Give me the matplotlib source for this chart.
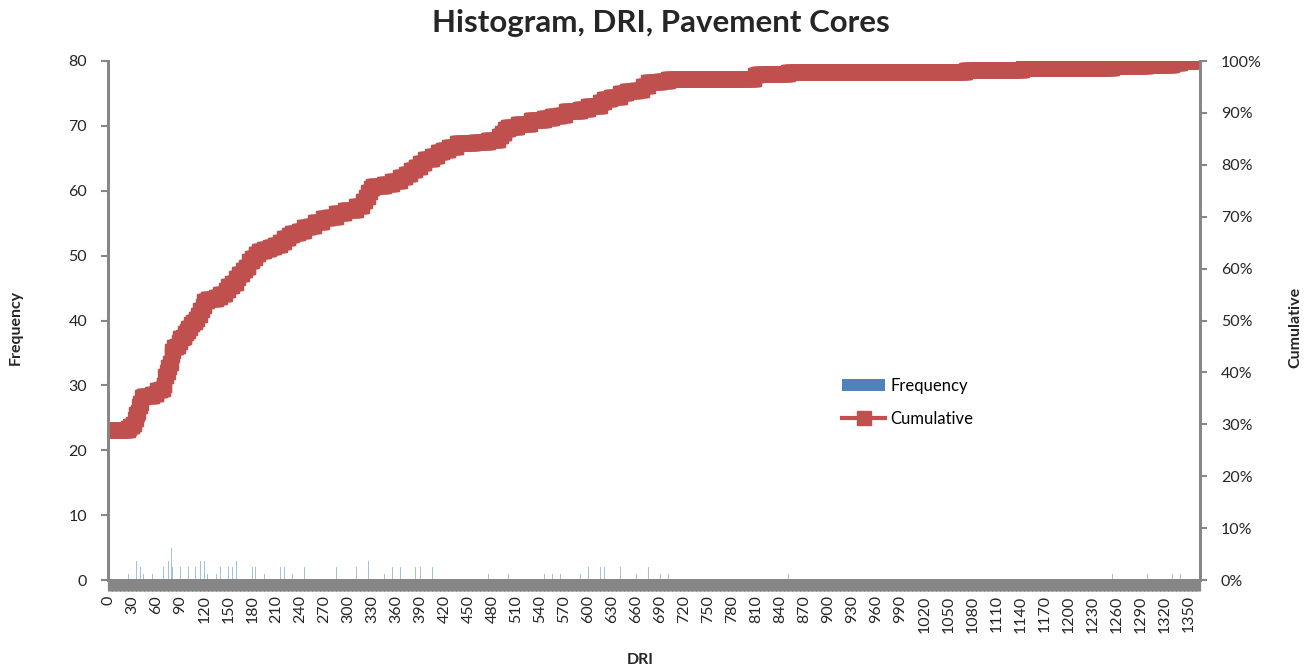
import numpy as np
import matplotlib.pyplot as plt
from matplotlib.patches import Patch
from matplotlib.lines import Line2D

plt.rcParams['font.family'] = ['Lato', 'DejaVu Sans']

# DRI bins with non-zero counts and their frequencies
dri_bins = [0, 25, 27, 31, 33, 35, 37, 38, 40, 42, 44, 55, 61, 66, 69, 71, 73, 75, 77, 79, 80,
            82, 86, 88, 90, 93, 96, 98, 100, 103, 106, 109, 112, 115, 118, 120, 124, 135, 140,
            147, 150, 155, 160, 163, 168, 172, 176, 180, 184, 188, 195, 202, 208, 215, 220, 226,
            230, 238, 245, 252, 258, 268, 276, 285, 296, 310, 318, 322, 325, 328, 331, 345, 355,
            365, 372, 378, 384, 390, 396, 405, 412, 418, 426, 436, 458, 475, 488, 492, 496, 500,
            512, 528, 545, 555, 565, 572, 590, 600, 615, 620, 628, 640, 648, 660, 668, 675, 690,
            700, 808, 812, 850, 1072, 1143, 1255, 1299, 1330, 1340]
counts = [84, 1, 1, 1, 3, 3, 1, 3, 2, 3, 1, 1, 2, 1, 2, 5, 2, 3, 2, 5, 2,
          2, 1, 2, 2, 1, 2, 1, 2, 2, 1, 2, 2, 3, 2, 3, 1, 1, 2,
          2, 2, 2, 3, 2, 2, 2, 3, 2, 2, 2, 1, 1, 1, 2, 2, 2,
          1, 1, 2, 1, 2, 2, 1, 2, 2, 2, 3, 2, 3, 2, 1, 1, 2,
          2, 2, 2, 2, 2, 2, 2, 2, 1, 2, 2, 1, 1, 2, 2, 2, 1,
          2, 2, 1, 1, 1, 2, 1, 2, 2, 2, 1, 2, 1, 1, 2, 2, 1,
          1, 2, 1, 1, 1, 1, 1, 1, 1, 1]
n_bins = 1365
tick_step = 30

bins = np.arange(n_bins)
freq = np.zeros(n_bins)
freq[dri_bins] = counts
cum = np.cumsum(freq) / freq.sum()

fig = plt.figure(figsize=(13.13, 6.72), dpi=100)
ax = fig.add_axes([108 / 1313, 1 - 580 / 672, 1092 / 1313, 519 / 672])
ax2 = ax.twinx()

blue = '#4F81BD'
red = '#C0504D'
grey = '#868686'

ax.bar(bins, freq, width=0.7, color=blue, alpha=0.5, linewidth=0)
ax2.plot(bins, cum, color=red, lw=3, marker='s', ms=9.5, mec=red, mfc=red)

ax.set_xlim(-0.5, n_bins - 0.5)
ax.set_ylim(0, 80)
ax2.set_ylim(0, 1)
ax.set_yticks(range(0, 81, 10))
ax2.set_yticks(np.linspace(0, 1, 11))
ax2.set_yticklabels([f'{p}%' for p in range(0, 101, 10)])

ax.set_xticks(bins[::tick_step])
ax.set_xticklabels([str(b) for b in bins[::tick_step]], rotation=90, fontsize=11.5, color='#262626')
ax.set_xticks(bins, minor=True)
ax.tick_params(axis='x', which='both', length=8, width=0.9, color=grey, direction='out', pad=3)
ax.tick_params(axis='y', length=5, width=1.5, color=grey, labelsize=11.5, labelcolor='#262626', pad=10)
ax2.tick_params(axis='y', length=5, width=1.5, color=grey, labelsize=11.5, labelcolor='#262626', pad=10)

for a in (ax, ax2):
    a.spines['top'].set_visible(False)
    for s in ('left', 'right', 'bottom'):
        a.spines[s].set_color(grey)
        a.spines[s].set_linewidth(2)

fig.text(661 / 1313, 1 - 23 / 672, 'Histogram, DRI, Pavement Cores', ha='center', va='center',
         fontsize=22.5, fontweight='bold', color='#262626')
fig.text(16 / 1313, 1 - 327 / 672, 'Frequency', rotation=90, ha='center', va='center',
         fontsize=11.5, fontweight='bold', color='#262626')
fig.text(1295 / 1313, 1 - 327 / 672, 'Cumulative', rotation=90, ha='center', va='center',
         fontsize=11.5, fontweight='bold', color='#262626')
fig.text(640 / 1313, 1 - 660 / 672, 'DRI', ha='center', va='center',
         fontsize=11.5, fontweight='bold', color='#262626')

handles = [Patch(facecolor=blue, edgecolor='none'),
           Line2D([], [], color=red, lw=3, marker='s', ms=9.5)]
ax2.legend(handles, ['Frequency', 'Cumulative'], loc='upper left',
           bbox_to_anchor=(827 / 1313, 1 - 363 / 672), bbox_transform=fig.transFigure,
           frameon=False, fontsize=12, handlelength=2.6, labelspacing=1.0, handletextpad=0.3)

fig.savefig('out.png', dpi=100)
